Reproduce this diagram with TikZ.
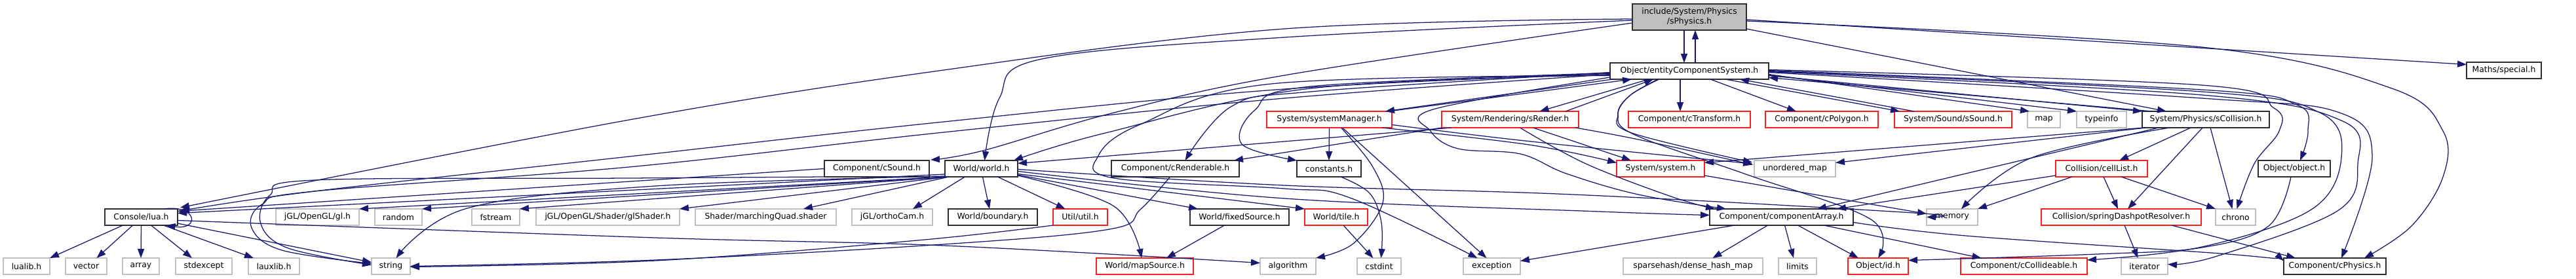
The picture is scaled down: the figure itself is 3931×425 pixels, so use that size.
\documentclass[tikz,border=0pt]{standalone}
\usepackage{fontspec}
\newfontfamily\dvs{DejaVu Sans}
\usetikzlibrary{arrows.meta,calc}
\definecolor{edgec}{RGB}{25,25,112}
\definecolor{ngray}{RGB}{191,191,191}
\definecolor{nblk}{RGB}{45,45,45}
\definecolor{nred}{RGB}{255,30,30}
\newcommand{\Nd}[7]{\node[#1, minimum width={(#5-#3)*0.75pt}, minimum height={(#6-#4)*0.75pt}] (#2) at ({(#3+#5)/2},{(#4+#6)/2}) {#7};}
\tikzset{
  base/.style={draw, rectangle, inner sep=0pt, outer sep=0pt, line width=0.95pt, text=black,
    font=\dvs\fontsize{9.3}{11.3}\selectfont},
  blk/.style={base, draw=nblk},
  rbox/.style={base, draw=nred},
  gbox/.style={base, draw=ngray},
  topn/.style={base, draw=nblk, fill=ngray, align=center},
  e/.style={draw=edgec, line width=0.95pt, -{Triangle[length=10.5pt,width=7.5pt]}},
  sm/.style={smooth, tension=0.6}
}
\begin{document}
\begin{tikzpicture}[x=0.75pt,y=-0.75pt]
\useasboundingbox (0,0) rectangle (3931,425);
\fill[white] (0,0) rectangle (3931,425);
% ---- nodes ----
\Nd{topn}{S0}{2491}{6}{2665}{46}{include/System/Physics\\/sPhysics.h}
\Nd{blk}{ecs}{2457}{96}{2699}{121}{Object/entityComponentSystem.h}
\Nd{blk}{special}{3764}{95}{3878}{120}{Maths/special.h}
\Nd{rbox}{sysmgr}{1933}{170}{2124}{195}{System/systemManager.h}
\Nd{rbox}{srender}{2200}{170}{2409}{195}{System/Rendering/sRender.h}
\Nd{rbox}{ctrans}{2485}{170}{2671}{195}{Component/cTransform.h}
\Nd{rbox}{cpoly}{2694}{170}{2866}{195}{Component/cPolygon.h}
\Nd{rbox}{ssound}{2891}{170}{3070}{195}{System/Sound/sSound.h}
\Nd{gbox}{map}{3094}{170}{3144}{195}{map}
\Nd{gbox}{typeinfo}{3169}{170}{3245}{195}{typeinfo}
\Nd{blk}{scoll}{3269}{170}{3463}{195}{System/Physics/sCollision.h}
\Nd{blk}{csound}{1258}{245}{1418}{270}{Component/cSound.h}
\Nd{blk}{world}{1442}{245}{1553}{270}{World/world.h}
\Nd{blk}{crend}{1696}{245}{1891}{270}{Component/cRenderable.h}
\Nd{blk}{consts}{1979}{245}{2077}{270}{constants.h}
\Nd{rbox}{system}{2467}{245}{2601}{270}{System/system.h}
\Nd{gbox}{umap}{2677}{245}{2801}{270}{unordered\_map}
\Nd{rbox}{cell}{3137}{245}{3277}{270}{Collision/cellList.h}
\Nd{blk}{object}{3446}{245}{3556}{270}{Object/object.h}
\Nd{blk}{lua}{160}{319}{271}{344}{Console/lua.h}
\Nd{gbox}{gl}{421}{319}{548}{344}{jGL/OpenGL/gl.h}
\Nd{gbox}{random}{572}{319}{644}{344}{random}
\Nd{gbox}{fstream}{720}{319}{793}{344}{fstream}
\Nd{gbox}{glshader}{818}{319}{1037}{344}{jGL/OpenGL/Shader/glShader.h}
\Nd{gbox}{mquad}{1061}{319}{1276}{344}{Shader/marchingQuad.shader}
\Nd{gbox}{ortho}{1300}{319}{1423}{344}{jGL/orthoCam.h}
\Nd{blk}{boundary}{1447}{319}{1583}{344}{World/boundary.h}
\Nd{rbox}{util}{1607}{319}{1690}{344}{Util/util.h}
\Nd{blk}{fixed}{1816}{319}{1967}{344}{World/fixedSource.h}
\Nd{rbox}{tile}{1991}{319}{2087}{344}{World/tile.h}
\Nd{blk}{carr}{2609}{319}{2828}{344}{Component/componentArray.h}
\Nd{gbox}{memory}{2940}{319}{3018}{344}{memory}
\Nd{rbox}{spring}{3115}{319}{3359}{344}{Collision/springDashpotResolver.h}
\Nd{gbox}{chrono}{3381}{319}{3442}{344}{chrono}
\Nd{gbox}{lualib}{5}{394}{76}{419}{lualib.h}
\Nd{gbox}{vector}{100}{394}{163}{419}{vector}
\Nd{gbox}{array}{187}{394}{243}{419}{array}
\Nd{gbox}{stdexcept}{268}{394}{354}{419}{stdexcept}
\Nd{gbox}{lauxlib}{379}{394}{457}{419}{lauxlib.h}
\Nd{gbox}{string}{567}{394}{626}{419}{string}
\Nd{rbox}{mapsrc}{1673}{394}{1821}{419}{World/mapSource.h}
\Nd{gbox}{algorithm}{1923}{394}{2008}{419}{algorithm}
\Nd{gbox}{cstdint}{2071}{394}{2138}{419}{cstdint}
\Nd{gbox}{exception}{2233}{394}{2320}{419}{exception}
\Nd{gbox}{dense}{2477}{394}{2690}{419}{sparsehash/dense\_hash\_map}
\Nd{gbox}{limits}{2714}{394}{2772}{419}{limits}
\Nd{rbox}{id}{2820}{394}{2912}{419}{Object/id.h}
\Nd{rbox}{ccoll}{2992}{394}{3185}{419}{Component/cCollideable.h}
\Nd{gbox}{iterator}{3237}{394}{3308}{419}{iterator}
\Nd{blk}{cphys}{3485}{394}{3641}{419}{Component/cPhysics.h}
% ---- edges: sPhysics ----
\draw[e] ($(S0.south)+(-8,0)$) -- ($(ecs.north)+(-8,0)$);
\draw[e] ($(ecs.north)+(9,0)$) -- ($(S0.south)+(9,0)$);
\draw[e] plot[sm] coordinates {($(S0.west)+(0,3)$) (1960,44) (1440,107) (960,183) ($(lua.north east)+(4,-2)$)};
\draw[e] plot[sm] coordinates {($(S0.west)+(0,5)$) (1960,57) (1590,90) (1525,150) ($(world.north)+(5,0)$)};
\draw[e] plot[sm] coordinates {($(S0.west)+(0,9)$) (1960,115) (1700,172) (1500,230) ($(csound.north east)+(2,-1)$)};
\draw[e] ($(S0.south east)+(0,-2)$) -- ($(scoll.north)+(-60,0)$);
\draw[e] ($(S0.east)+(0,4)$) -- ($(special.west)+(0,-9)$);
\draw[e] plot[sm] coordinates {($(S0.east)+(0,6)$) (3360,72) (3650,135) (3728,200) (3728,270) (3680,345) ($(cphys.north)+(45,0)$)};
% ---- edges: entityComponentSystem ----
\draw[e] ($(ecs.south)+(-14,0)$) -- ($(ctrans.north)+(-14,0)$);
\draw[e] ($(ecs.south)+(32,0)$) -- ($(cpoly.north)+(-39,0)$);
\draw[e] ($(ecs.south)+(55,0)$) -- ($(ssound.north west)+(8,0)$);
\draw[e] ($(ssound.north west)+(30,0)$) -- ($(ecs.south)+(77,0)$);
\draw[e] ($(ecs.east)+(0,5)$) -- ($(map.north west)+(3,0)$);
\draw[e] ($(ecs.east)+(0,6)$) -- (typeinfo.north west);
\draw[e] ($(ecs.east)+(0,7)$) -- (scoll.north west);
\draw[e] ($(scoll.north west)+(15,0)$) -- ($(ecs.east)+(0,10)$);
\draw[e] plot[sm] coordinates {($(ecs.east)+(0,-2)$) (3360,130) (3470,165) (3478,200) (3440,250) ($(chrono.north)+(2,0)$)};
\draw[e] plot[sm] coordinates {($(ecs.east)+(0,-1)$) (3360,137) (3505,160) (3522,200) ($(object.north)+(9,0)$)};
\draw[e] plot[sm] coordinates {(ecs.east) (3360,140) (3540,172) (3573,240) (3527,320) (3360,377) ($(ccoll.north east)+(0,3)$)};
\draw[e] plot[sm] coordinates {($(ecs.east)+(0,1)$) (3360,145) (3575,185) (3598,250) (3567,322) (3380,392) ($(iterator.east)+(0,-3)$)};
\draw[e] plot[sm] coordinates {($(ecs.east)+(0,2)$) (3360,150) (3570,172) (3620,240) ($(cphys.north)+(10,0)$)};
\draw[e] plot[sm] coordinates {($(ecs.south)+(-48,0)$) (2487,146) (2469,175) (2490,203) ($(umap.north west)+(-3,3)$)};
\draw[e] plot[sm] coordinates {($(ecs.south)+(-46,0)$) (2487,146) (2469,175) (2495,206) (2667,267) (2855,335) (id.north)};
\draw[e] ($(sysmgr.north east)+(-5,0)$) -- ($(ecs.south west)+(33,0)$);
\draw[e] ($(ecs.south west)+(4,0)$) -- ($(sysmgr.north east)+(-10,0)$);
\draw[e] ($(srender.north east)+(-20,0)$) -- ($(ecs.south)+(-55,0)$);
\draw[e] ($(ecs.south)+(-62,0)$) -- ($(srender.north)+(45,0)$);
\draw[e] plot[sm] coordinates {($(ecs.west)+(0,2)$) (2000,140) (1880,162) ($(crend.north)+(15,0)$)};
\draw[e] plot[sm] coordinates {($(ecs.west)+(0,3)$) (2000,132) (1915,168) (1895,220) (consts.north west)};
\draw[e] plot[sm] coordinates {($(ecs.west)+(0,4)$) (1960,136) (1440,186) (960,239) (480,292) ($(lua.north east)+(4,3)$)};
\draw[e] plot[sm] coordinates {($(ecs.west)+(0,6)$) (2000,135) (1687,203) ($(world.north east)+(-6,0)$)};
\draw[e] plot[sm] coordinates {($(ecs.west)+(0,5)$) (1960,150) (1440,202) (960,255) (480,292) (400,312) (384,348) (430,382) ($(string.west)+(0,-4)$)};
\draw[e] plot[sm] coordinates {($(ecs.west)+(0,7)$) (1940,128) (1740,190) (1676,238) (1700,272) (1960,288) (2060,302) ($(exception.north)+(-22,0)$)};
\draw[e] plot[sm] coordinates {($(ecs.south west)+(0,-3)$) (2187,167) (2183,200) (2225,227) (2320,235) (2390,265) (2500,297) ($(carr.north west)+(25,0)$)};
% ---- systemManager ----
\draw[e] (sysmgr.south) -- (consts.north);
\draw[e] plot[sm] coordinates {($(sysmgr.south)+(18,0)$) (2095,255) (2110,310) (2065,372) (algorithm.north east)};
\draw[e] ($(sysmgr.south)+(20,0)$) -- ($(exception.north)+(-8,0)$);
\draw[e] plot[sm] coordinates {($(sysmgr.south east)+(-15,0)$) (2333,221) ($(system.west)+(0,-9)$)};
\draw[e] plot[sm] coordinates {($(sysmgr.east)+(0,8)$) (2300,212) (2500,233) ($(umap.north west)+(-3,5)$)};
% ---- sRender ----
\draw[e] ($(srender.south)+(35,0)$) -- ($(system.north)+(-45,0)$);
\draw[e] plot[sm] coordinates {($(srender.south east)+(-5,0)$) (2500,213) ($(umap.west)+(-2,-6)$)};
\draw[e] plot[sm] coordinates {($(srender.south)+(15,0)$) (2420,250) (2550,300) ($(carr.north west)+(8,0)$)};
\draw[e] ($(srender.south west)+(15,0)$) -- ($(world.east)+(0,-8)$);
\draw[e] (srender.south west) -- ($(crend.north east)+(-8,0)$);
% ---- cSound ----
\draw[e] plot[sm] coordinates {(csound.south west) (960,272) (480,275) (412,298) (398,342) (440,379) ($(string.west)+(0,-2)$)};
\draw[e] (csound.west) -- ($(lua.east)+(0,-9)$);
% ---- world ----
\draw[e] ($(world.south west)+(0,-4)$) -- ($(lua.east)+(0,-6)$);
\draw[e] ($(world.south west)+(2,0)$) -- (gl.north east);
\draw[e] ($(world.south west)+(3,0)$) -- (random.north east);
\draw[e] ($(world.south west)+(4,0)$) -- (fstream.north east);
\draw[e] ($(world.south west)+(5,0)$) -- (glshader.north east);
\draw[e] ($(world.south west)+(6,0)$) -- ($(mquad.north east)+(-50,0)$);
\draw[e] ($(world.south)+(-25,0)$) -- ($(ortho.north east)+(-30,0)$);
\draw[e] ($(world.south)+(2,0)$) -- ($(boundary.north)+(-5,0)$);
\draw[e] ($(world.south)+(25,0)$) -- ($(util.north)+(-23,0)$);
\draw[e] plot[sm] coordinates {($(world.south east)+(0,-2)$) (1700,315) ($(mapsrc.north)+(-5,0)$)};
\draw[e] ($(world.south east)+(0,-3)$) -- ($(fixed.north west)+(12,0)$);
\draw[e] ($(world.east)+(0,8)$) -- (tile.north west);
\draw[e] plot[sm] coordinates {($(world.south west)+(0,-1)$) (1000,284) (713,318) ($(string.north)+(8,0)$)};
\draw[e] plot[sm] coordinates {($(world.east)+(0,4)$) (1960,303) (2440,323) ($(carr.west)+(0,-3)$)};
\draw[e] plot[sm] coordinates {($(world.east)+(0,1)$) (1960,283) (2400,297) (2920,325) (memory.west)};
% ---- lua ----
\draw[e] ($(lua.south)+(-28,0)$) -- (lualib.north east);
\draw[e] ($(lua.south)+(-13,0)$) -- ($(vector.north)+(16,0)$);
\draw[e] (lua.south) -- (array.north);
\draw[e] ($(lua.south)+(15,0)$) -- ($(stdexcept.north)+(-18,0)$);
\draw[e] ($(lua.south)+(34,0)$) -- ($(lauxlib.north west)+(8,0)$);
\draw[e] ($(lua.north)+(34,0)$) .. controls (302,312) and (305,352) .. ($(lua.south)+(38,0)$);
\draw[e] ($(lua.south east)+(0,-3)$) -- ($(string.west)+(0,-6)$);
\draw[e] plot[sm] coordinates {($(lua.east)+(0,5)$) (1000,363) (1440,375) ($(algorithm.west)+(0,-5)$)};
% ---- others ----
\draw[e] plot[sm] coordinates {($(crend.south)+(-8,0)$) (1740,320) (1693,350) (1440,373) (1000,397) (string.east)};
\draw[e] plot[sm] coordinates {(util.south west) (1400,367) (1000,398) ($(string.east)+(0,1)$)};
\draw[e] ($(fixed.south)+(-23,0)$) -- ($(mapsrc.north)+(33,0)$);
\draw[e] ($(tile.south)+(11,0)$) -- ($(cstdint.north)+(-9,0)$);
\draw[e] plot[sm] coordinates {($(consts.south)+(18,0)$) (2090,295) (2108,340) ($(cstdint.north)+(3,0)$)};
\draw[e] ($(carr.south)+(-21,0)$) -- ($(dense.north)+(30,0)$);
\draw[e] ($(carr.south)+(5,0)$) -- ($(limits.north)+(-6,0)$);
\draw[e] ($(carr.south)+(25,0)$) -- ($(id.north)+(-30,0)$);
\draw[e] ($(carr.south west)+(38,0)$) -- ($(exception.east)+(0,-8)$);
\draw[e] ($(carr.south east)+(-45,0)$) -- ($(ccoll.north)+(-65,0)$);
\draw[e] plot[sm] coordinates {($(carr.east)+(0,8)$) (3000,360) (3400,388) ($(cphys.west)+(0,-8)$)};
\draw[e] ($(system.south east)+(0,-2)$) -- ($(memory.west)+(0,-5)$);
% ---- sCollision ----
\draw[e] ($(scoll.south west)+(3,0)$) -- ($(system.east)+(0,-9)$);
\draw[e] ($(scoll.south west)+(6,0)$) -- ($(umap.east)+(0,-9)$);
\draw[e] ($(scoll.south west)+(25,0)$) -- ($(carr.north east)+(-55,0)$);
\draw[e] plot[sm] coordinates {($(scoll.south)+(-55,0)$) (3100,241) ($(memory.north)+(14,0)$)};
\draw[e] ($(scoll.south)+(-23,0)$) -- ($(cell.north)+(27,0)$);
\draw[e] ($(scoll.south)+(-5,0)$) -- ($(spring.north)+(10,0)$);
\draw[e] ($(scoll.south)+(7,0)$) -- ($(chrono.north)+(-5,0)$);
% ---- cellList, spring, object ----
\draw[e] ($(cell.south)+(-45,0)$) -- (memory.north east);
\draw[e] ($(cell.south)+(3,0)$) -- ($(spring.north)+(-5,0)$);
\draw[e] ($(cell.south)+(30,0)$) -- (chrono.north west);
\draw[e] ($(cell.south west)+(0,-2)$) -- ($(carr.north east)+(-25,0)$);
\draw[e] ($(spring.south)+(5,0)$) -- ($(iterator.north)+(-10,0)$);
\draw[e] ($(spring.south east)+(-45,0)$) -- ($(cphys.north)+(-60,0)$);
\draw[e] plot[sm] coordinates {($(object.south)+(-5,0)$) (3462,345) (3360,378) (3200,388) ($(id.east)+(0,-9)$)};
\end{tikzpicture}
\end{document}
